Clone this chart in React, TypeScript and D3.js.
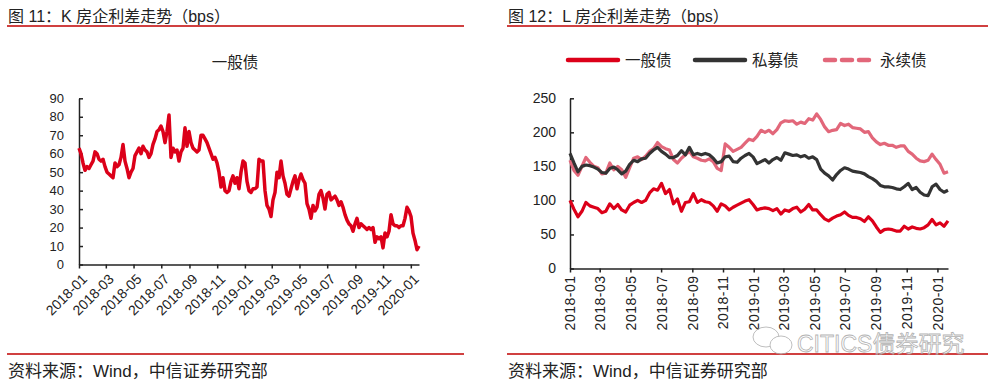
import React, { useEffect, useRef } from "react";
import * as d3 from "d3";

// 图11: K 房企一般债利差 (bps), 2018-01 .. 2020-01, evenly spaced samples
const K_START = "2018-01-01";
const K_END = "2020-01-19";
const K_GENERAL = [
  63, 60, 55, 51, 53, 52, 54, 56, 61, 60, 57, 56, 57, 53, 50, 49, 48, 47, 55, 53,
  54, 58, 65, 56, 52, 47, 50, 52, 59, 61, 63, 60, 64, 62, 61, 58, 60, 65, 68, 72,
  73, 75, 72, 66, 72, 81, 58, 63, 61, 62, 56, 61, 63, 74, 64, 72, 66, 63, 62, 61,
  62, 70, 70, 68, 66, 63, 60, 57, 58, 55, 50, 42, 47, 40, 39, 40, 45, 48, 44, 47,
  41, 50, 56, 55, 45, 40, 39, 41, 41, 42, 57, 56, 56, 40, 32, 30, 26, 35, 39, 50,
  47, 56, 48, 44, 38, 37, 41, 45, 48, 41, 46, 49, 46, 44, 33, 30, 25, 32, 29, 31,
  38, 40, 36, 30, 38, 39, 35, 36, 37, 35, 32, 34, 31, 27, 24, 22, 21, 18, 22, 25,
  20, 22, 21, 20, 19, 20, 19, 20, 12, 15, 14, 15, 9, 17, 15, 18, 27, 22, 21, 21,
  20, 21, 21, 25, 31, 29, 26, 17, 13, 8, 10,
];
const K_Y_TICKS = [0, 10, 20, 30, 40, 50, 60, 70, 80, 90];

// 图12: L 房企利差 (bps)
const L_START = "2018-01-01";
const L_END = "2020-01-22";
const L_GENERAL = [
  100, 87, 76, 84, 97, 92, 90, 88, 82, 84, 95, 88, 94, 86, 83, 93, 97, 100, 97, 100,
  111, 117, 115, 125, 110, 116, 95, 102, 84, 97, 98, 110, 97, 101, 98, 97, 92, 84, 95, 92,
  86, 90, 93, 96, 99, 101, 94, 86, 88, 89, 88, 85, 88, 80, 86, 84, 88, 90, 83, 87,
  94, 86, 86, 79, 73, 70, 74, 77, 79, 83, 78, 75, 75, 73, 69, 76, 70, 61, 53, 57,
  58, 57, 55, 55, 62, 58, 61, 59, 58, 60, 64, 72, 64, 67, 62, 70,
];
const L_PRIVATE = [
  169, 155, 142, 150, 152, 151, 149, 146, 141, 140, 147, 149, 145, 139, 143, 153, 159, 157, 161, 162,
  169, 174, 178, 172, 168, 163, 163, 166, 173, 167, 178, 167, 169, 167, 169, 167, 162, 155, 157, 164,
  165, 157, 156, 162, 166, 169, 164, 154, 157, 160, 155, 160, 163, 159, 170, 168, 166, 167, 164, 166,
  162, 164, 160, 146, 140, 136, 130, 138, 144, 148, 146, 143, 142, 141, 139, 135, 132, 128, 122, 120,
  120, 119, 117, 116, 120, 125, 116, 119, 112, 108, 107, 120, 124, 116, 112, 115,
];
const L_PERPETUAL = [
  159, 144, 137, 150, 163, 156, 150, 148, 139, 140, 155, 145, 150, 145, 134, 148, 162, 164, 160, 165,
  172, 176, 185, 179, 176, 174, 160, 155, 162, 167, 172, 164, 162, 159, 158, 161, 157, 147, 144, 183,
  178, 172, 175, 178, 184, 190, 188, 194, 203, 200, 203, 198, 204, 214, 217, 216, 217, 212, 215, 213,
  220, 218, 227, 219, 208, 201, 203, 204, 213, 210, 212, 207, 206, 205, 200, 201, 192, 186, 182, 184,
  181, 181, 178, 180, 180, 172, 168, 162, 158, 157, 159, 168, 160, 153, 140, 142,
];
const L_Y_TICKS = [0, 50, 100, 150, 200, 250];
const L_SERIES = ["一般债", "私募债", "永续债"];

const TICK_MONTHS = [
  "2018-01", "2018-03", "2018-05", "2018-07", "2018-09", "2018-11",
  "2019-01", "2019-03", "2019-05", "2019-07", "2019-09", "2019-11", "2020-01",
];

const FONT = "'Liberation Sans', Arial, 'Noto Sans CJK SC', sans-serif";
const RED = "#DC0019";
const DARK = "#333333";
const PINK = "#E2677A";
const RULE = "#C00000";

const parseDay = d3.timeParse("%Y-%m-%d");
const parseMonth = d3.timeParse("%Y-%m");
const fmtMonth = d3.timeFormat("%Y-%m");

// spread the samples evenly between the first and last date
const toDated = (values, start, end) => {
  const t = d3.scaleLinear()
    .domain([0, values.length - 1])
    .range([parseDay(start).getTime(), parseDay(end).getTime()]);
  return values.map((v, i) => ({ date: new Date(t(i)), value: v }));
};

const App = () => {
  const ref = useRef(null);

  useEffect(() => {
    const svg = d3.select(ref.current);
    svg.selectAll("*").remove();

    const tickDates = TICK_MONTHS.map(m => parseMonth(m));

    // --- panel frames: titles, rules, sources
    const panels = [
      { x0: 7, x1: 464, title: "图 11：K 房企利差走势（bps）" },
      { x0: 507, x1: 988, title: "图 12：L 房企利差走势（bps）" },
    ];
    panels.forEach(p => {
      svg.append("text")
        .attr("x", p.x0 + 1).attr("y", 22)
        .attr("font-family", FONT).attr("font-size", 16).attr("fill", "#222")
        .text(p.title);
      svg.append("line")
        .attr("x1", p.x0).attr("x2", p.x1).attr("y1", 26).attr("y2", 26)
        .attr("stroke", RULE).attr("stroke-width", 1.3);
      svg.append("line")
        .attr("x1", p.x0).attr("x2", p.x1).attr("y1", 354).attr("y2", 354)
        .attr("stroke", RULE).attr("stroke-width", 1.3);
      svg.append("text")
        .attr("x", p.x0 + 1).attr("y", 377)
        .attr("font-family", FONT).attr("font-size", 17).attr("fill", "#222")
        .text("资料来源：Wind，中信证券研究部");
    });

    const styleAxis = (g, size) => {
      g.attr("font-family", FONT).attr("font-size", size);
      g.selectAll("path, line").attr("stroke", "#222").attr("stroke-width", 1.5);
      g.selectAll("text").attr("fill", "#222");
    };

    // ---------- left chart
    const kData = toDated(K_GENERAL, K_START, K_END);
    const xK = d3.scaleTime().domain([parseDay(K_START), parseDay(K_END)]).range([79, 419]);
    const yK = d3.scaleLinear().domain([0, 90]).range([264.5, 98.3]);

    svg.append("text")
      .attr("x", 235).attr("y", 68).attr("text-anchor", "middle")
      .attr("font-family", FONT).attr("font-size", 15.5).attr("fill", "#222")
      .text("一般债");

    const gxK = svg.append("g")
      .attr("transform", `translate(0,${yK(0)})`)
      .call(d3.axisBottom(xK).tickValues(tickDates).tickFormat(fmtMonth).tickSizeInner(4).tickSizeOuter(0));
    styleAxis(gxK, 14);
    gxK.selectAll(".tick text")
      .attr("x", 0).attr("y", 0).attr("dy", "0.35em")
      .attr("text-anchor", "end")
      .attr("transform", "translate(5,12) rotate(-45)");

    const gyK = svg.append("g")
      .attr("transform", `translate(${xK.range()[0]},0)`)
      .call(d3.axisLeft(yK).tickValues(K_Y_TICKS).tickSizeInner(-4).tickSizeOuter(0).tickPadding(15));
    styleAxis(gyK, 13);

    svg.append("path")
      .datum(kData)
      .attr("fill", "none")
      .attr("stroke", RED)
      .attr("stroke-width", 3.5)
      .attr("stroke-linejoin", "round")
      .attr("d", d3.line().x(d => xK(d.date)).y(d => yK(d.value)));

    // ---------- right chart
    const xL = d3.scaleTime().domain([parseDay(L_START), parseDay(L_END)]).range([570, 948]);
    const yL = d3.scaleLinear().domain([0, 250]).range([268.5, 98.3]);

    const gxL = svg.append("g")
      .attr("transform", `translate(0,${yL(0)})`)
      .call(d3.axisBottom(xL).tickValues(tickDates).tickFormat(fmtMonth).tickSizeInner(4).tickSizeOuter(0));
    styleAxis(gxL, 14);
    gxL.selectAll(".tick text")
      .attr("x", 0).attr("y", 0).attr("dy", "0.35em")
      .attr("text-anchor", "end")
      .attr("letter-spacing", 0.5)
      .attr("transform", "translate(0,7) rotate(-90)");

    const gyL = svg.append("g")
      .attr("transform", `translate(${xL.range()[0]},0)`)
      .call(d3.axisLeft(yL).tickValues(L_Y_TICKS).tickSizeInner(-4).tickSizeOuter(0).tickPadding(14));
    styleAxis(gyL, 14);

    const lineL = d3.line().x(d => xL(d.date)).y(d => yL(d.value));
    const series = [
      { name: L_SERIES[2], values: L_PERPETUAL, color: PINK },
      { name: L_SERIES[1], values: L_PRIVATE, color: DARK },
      { name: L_SERIES[0], values: L_GENERAL, color: RED },
    ];
    series.forEach(s => {
      svg.append("path")
        .datum(toDated(s.values, L_START, L_END))
        .attr("fill", "none")
        .attr("stroke", s.color)
        .attr("stroke-width", 3.2)
        .attr("stroke-linejoin", "round")
        .attr("d", lineL);
    });

    // legend
    const legend = [
      { name: L_SERIES[0], color: RED, x: 566, dash: null },
      { name: L_SERIES[1], color: DARK, x: 693, dash: null },
      { name: L_SERIES[2], color: PINK, x: 823, dash: "10 7" },
    ];
    legend.forEach(l => {
      svg.append("line")
        .attr("x1", l.x + 2).attr("x2", l.x + (l.dash ? 48 : 52))
        .attr("y1", 60).attr("y2", 60)
        .attr("stroke", l.color).attr("stroke-width", 4.5)
        .attr("stroke-linecap", "round")
        .attr("stroke-dasharray", l.dash);
      svg.append("text")
        .attr("x", l.x + (l.dash ? 57 : 59)).attr("y", 66)
        .attr("font-family", FONT).attr("font-size", 15.5).attr("fill", "#222")
        .text(l.name);
    });

    // watermark
    const wm = svg.append("g").attr("opacity", 0.75);
    wm.append("ellipse").attr("cx", 766).attr("cy", 337).attr("rx", 13).attr("ry", 10)
      .attr("fill", "#fff").attr("stroke", "#aaa").attr("stroke-width", 1);
    wm.append("ellipse").attr("cx", 781).attr("cy", 345).attr("rx", 11).attr("ry", 9)
      .attr("fill", "#fff").attr("stroke", "#aaa").attr("stroke-width", 1);
    wm.append("text")
      .attr("x", 797).attr("y", 352)
      .attr("font-family", FONT).attr("font-size", 23)
      .attr("fill", "#fff").attr("stroke", "#999").attr("stroke-width", 0.8)
      .text("CITICS债券研究");
  }, []);

  return (
    <svg
      ref={ref}
      width={997}
      height={386}
      style={{ position: "absolute", left: 0, top: 0, background: "#fff", display: "block" }}
    />
  );
};

export default App;
